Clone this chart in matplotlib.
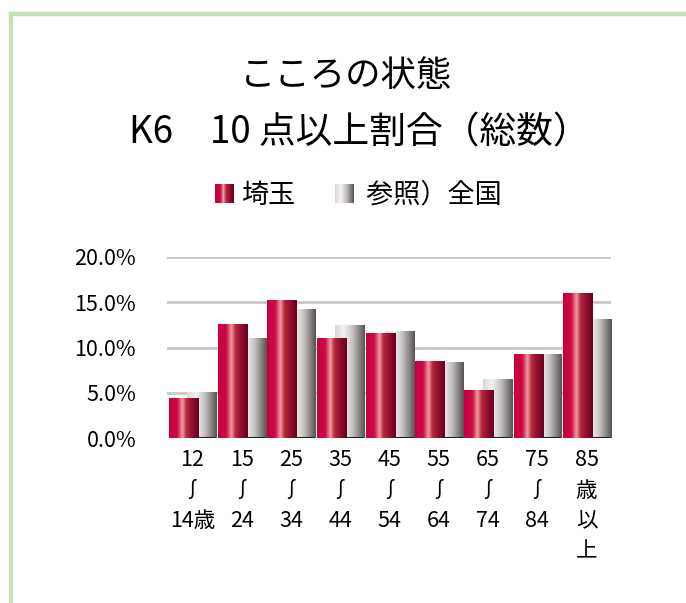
import numpy as np
import matplotlib
matplotlib.use("Agg")
import matplotlib.pyplot as plt
from matplotlib.colors import LinearSegmentedColormap
from matplotlib.legend_handler import HandlerBase
from matplotlib.image import BboxImage
from matplotlib.transforms import Bbox, TransformedBbox
from matplotlib.patches import Patch
from matplotlib.lines import Line2D

plt.rcParams['font.family'] = ['Noto Sans CJK JP', 'DejaVu Sans']

# ==============================
# Data
# ==============================

age_labels = ["12\n∫\n14歳", "15\n∫\n24", "25\n∫\n34", "35\n∫\n44", "45\n∫\n54",
              "55\n∫\n64", "65\n∫\n74", "75\n∫\n84", "85\n歳\n以\n上"]
saitama = [4.4, 12.6, 15.2, 11.0, 11.6, 8.5, 5.3, 9.3, 16.0]
national = [5.1, 11.1, 14.2, 12.5, 11.8, 8.4, 6.5, 9.3, 13.2]
series_names = ["埼玉", " 参照）全国"]
y_ticks = [0, 5, 10, 15, 20]

# ==============================
# Colours (horizontal gradients)
# ==============================

red_cmap = LinearSegmentedColormap.from_list("red_grad", [
    (0.0, "#c6003f"), (0.28, "#cc0a45"), (0.45, "#eea0a2"),
    (0.58, "#b8283f"), (0.8, "#8e0c2c"), (1.0, "#6a001e")])
gray_cmap = LinearSegmentedColormap.from_list("gray_grad", [
    (0.0, "#dcd8d8"), (0.3, "#f4f2f2"), (0.6, "#c4c0c0"), (1.0, "#575050")])
grad = np.linspace(0, 1, 256).reshape(1, -1)


def fill_gradient(ax, patch, cmap):
    x0, y0 = patch.get_x(), patch.get_y()
    w, h = patch.get_width(), patch.get_height()
    im = ax.imshow(grad, cmap=cmap, extent=[x0, x0 + w, y0, y0 + h],
                   aspect='auto', interpolation='bicubic', zorder=patch.get_zorder())
    im.set_clip_path(patch)


class GradientHandler(HandlerBase):
    def __init__(self, cmap):
        super().__init__()
        self.cmap = cmap

    def create_artists(self, legend, orig_handle, xdescent, ydescent,
                       width, height, fontsize, trans):
        side = height * 1.0
        bbox = Bbox.from_bounds(-xdescent + width - side, -ydescent, side, side)
        img = BboxImage(TransformedBbox(bbox, trans), cmap=self.cmap,
                        interpolation='bicubic')
        img.set_data(grad)
        return [img]


# ==============================
# Figure
# ==============================

fig = plt.figure(figsize=(6.86, 6.03), dpi=100)

# light green frame
fig.add_artist(Line2D([0.016, 1.0], [0.977, 0.977], color="#c6e1b6", lw=3.2,
                      transform=fig.transFigure))
fig.add_artist(Line2D([0.016, 0.016], [0.0, 0.977], color="#c6e1b6", lw=3.2,
                      transform=fig.transFigure))

fig.text(0.505, 0.874, "こころの状態", ha="center", va="center", fontsize=25.5)
fig.text(0.524, 0.779, "K6　10 点以上割合（総数）", ha="center", va="center", fontsize=26.5)

ax = fig.add_axes([0.243, 0.2736, 0.648, 0.3002])

x = np.arange(len(age_labels))
width = 0.59
gray_bars = ax.bar(x + 0.195, national, width, color="none", zorder=2)
red_bars = ax.bar(x - 0.185, saitama, width, color="none", zorder=3)

for p in gray_bars:
    fill_gradient(ax, p, gray_cmap)
    ax.plot([p.get_x() + 0.2, p.get_x() + p.get_width()], [0, 0],
            color="#222222", lw=1.5, zorder=4, solid_capstyle="butt")
for p in red_bars:
    fill_gradient(ax, p, red_cmap)

ax.set_xlim(-0.52, 8.5)
ax.set_ylim(0, 20)

for yv in y_ticks[1:]:
    ax.axhline(yv, color="#c8c8c8", lw=2, zorder=1)

ax.set_yticks(y_ticks)
ax.set_yticklabels([f"{v:.1f}%" for v in y_ticks], fontsize=15.5)
ax.set_xticks(x)
ax.set_xticklabels(age_labels, fontsize=15.5, linespacing=1.5, va="top")
ax.tick_params(axis="y", length=0, pad=22)
ax.tick_params(axis="x", length=0, pad=8)
for s in ax.spines.values():
    s.set_visible(False)

handles = [Patch(), Patch()]
fig.legend(handles, series_names, loc="center", bbox_to_anchor=(0.52, 0.676),
           ncol=2, frameon=False, fontsize=19.5, handlelength=0.85,
           handletextpad=0.25, columnspacing=1.3,
           handler_map={handles[0]: GradientHandler(red_cmap),
                        handles[1]: GradientHandler(gray_cmap)})

fig.savefig("out.png", dpi=100)
